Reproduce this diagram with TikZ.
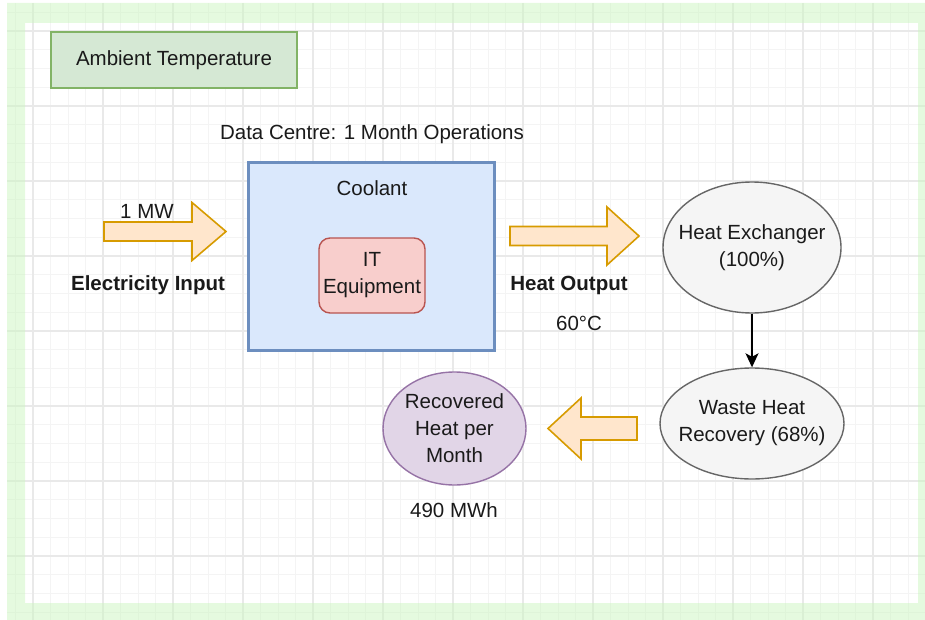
\documentclass[tikz,border=0pt]{standalone}
\usepackage{fontspec}
\setmainfont{Liberation Sans}
\usetikzlibrary{arrows.meta,shapes.geometric}

\definecolor{gridminor}{HTML}{F4F4F4}
\definecolor{gridmajor}{HTML}{E9E9E9}
\definecolor{framegreen}{HTML}{CCF5C0}
\definecolor{ambfill}{HTML}{D5E8D4}
\definecolor{ambdraw}{HTML}{82B366}
\definecolor{coolfill}{HTML}{DAE8FC}
\definecolor{cooldraw}{HTML}{6C8EBF}
\definecolor{itfill}{HTML}{F8CECC}
\definecolor{itdraw}{HTML}{B85450}
\definecolor{arrfill}{HTML}{FFE6CC}
\definecolor{arrdraw}{HTML}{D79B00}
\definecolor{grayfill}{HTML}{F5F5F5}
\definecolor{graydraw}{HTML}{666666}
\definecolor{purpfill}{HTML}{E1D5E7}
\definecolor{purpdraw}{HTML}{9673A6}
\definecolor{ink}{HTML}{1A1A1A}

\tikzset{
  every node/.style={text=ink, font=\fontsize{20.5}{27}\selectfont, align=center, inner sep=0pt},
  txt/.style={},
  boldtxt/.style={font=\fontsize{20.5}{27}\selectfont\bfseries},
  ambient/.style={draw=ambdraw, fill=ambfill, line width=1.4pt, minimum width=246pt, minimum height=56pt},
  coolbox/.style={draw=cooldraw, fill=coolfill, line width=3pt, minimum width=246pt, minimum height=187pt},
  itbox/.style={draw=itdraw, fill=itfill, line width=1.4pt, rounded corners=11pt, minimum width=106pt, minimum height=75pt},
  grayell/.style={ellipse, draw=graydraw, fill=grayfill, line width=1.4pt},
  purpell/.style={ellipse, draw=purpdraw, fill=purpfill, line width=1.4pt},
  blockarrow/.style={draw=arrdraw, fill=arrfill, line width=1.6pt, line join=miter},
  flow/.style={draw=black, line width=1.5pt, -{Stealth[length=14pt,width=13pt,inset=3.5pt]}},
}

\begin{document}
\begin{tikzpicture}[x=1pt,y=-1pt]
  \useasboundingbox (0,0) rectangle (925,620);

  % background grid
  \foreach \gx in {15.5,33,...,925}
    \draw[gridminor, line width=0.9pt] (\gx,3) -- (\gx,620);
  \foreach \gy in {12.25,31,...,620}
    \draw[gridminor, line width=0.9pt] (7,\gy) -- (925,\gy);
  \foreach \gx in {33,103,...,925}
    \draw[gridmajor, line width=1.1pt] (\gx,3) -- (\gx,620);
  \foreach \gy in {31,106,...,620}
    \draw[gridmajor, line width=1.1pt] (7,\gy) -- (925,\gy);

  % green page frame
  \fill[framegreen, fill opacity=0.5, even odd rule]
    (7,3) rectangle (925,620) (25,23) rectangle (918,603);

  % boxes and labels
  \node[ambient] (amb) at (174,60) {Ambient Temperature};
  \node[txt] (dc) at (372,134) {Data Centre: 1 Month Operations};
  \node[coolbox] (cool) at (371.5,256.5) {};
  \node[txt] (coollbl) at (372,188) {Coolant};
  \node[itbox] (it) at (372,275.5) {IT\\Equipment};

  % electricity input
  \path[blockarrow] (104,222) -- (192,222) -- (192,202.5) -- (226,231.5)
    -- (192,260.5) -- (192,241) -- (104,241) -- cycle;
  \node[txt] (mw) at (147,211) {1 MW};
  \node[boldtxt] (elec) at (148,285) {Electricity Input};

  % heat output
  \path[blockarrow] (510,226.5) -- (607,226.5) -- (607,207) -- (639,236)
    -- (607,265) -- (607,245.5) -- (510,245.5) -- cycle;
  \node[boldtxt] (hout) at (569,285) {Heat Output};
  \node[txt] (temp) at (579,323) {60°C};

  % heat recovery chain: ellipses drawn empty, their labels set on top
  \node[grayell, minimum width=178pt, minimum height=131pt] (hx) at (752,247.5) {};
  \node[txt] (hxlbl) at (hx.center) {Heat Exchanger\\(100\%)};
  \node[grayell, minimum width=184pt, minimum height=111pt] (whr) at (752,423.5) {};
  \node[txt] (whrlbl) at (whr.center) {Waste Heat\\Recovery (68\%)};
  \draw[flow] (hx.south) -- (whr.north);

  \path[blockarrow] (637,417) -- (581,417) -- (581,398) -- (548,428.5)
    -- (581,459) -- (581,440) -- (637,440) -- cycle;

  \node[purpell, minimum width=143pt, minimum height=113pt] (rec) at (454.5,428.5) {};
  \node[txt] (reclbl) at (rec.center) {Recovered\\Heat per\\Month};
  \node[txt] (mwh) at (454,510) {490 MWh};
\end{tikzpicture}
\end{document}
